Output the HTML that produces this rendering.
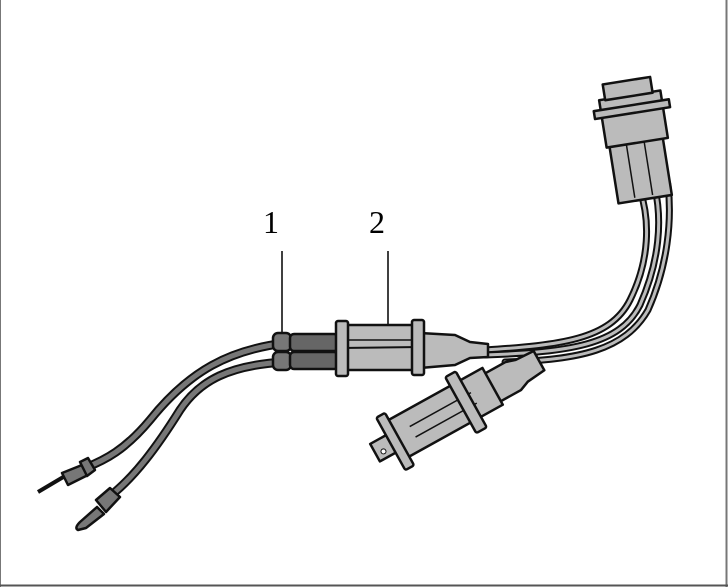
<!DOCTYPE html>
<html><head><style>
html,body{margin:0;padding:0;background:#fff;}
svg{display:block;}
</style></head><body>
<svg width="728" height="587" viewBox="0 0 728 587" xmlns="http://www.w3.org/2000/svg">
<rect x="0" y="0" width="728" height="587" fill="#fff"/>
<line x1="0.5" y1="0" x2="0.5" y2="587" stroke="#777" stroke-width="1"/>
<line x1="726.5" y1="0" x2="726.5" y2="587" stroke="#777" stroke-width="2"/>
<line x1="0" y1="585.5" x2="728" y2="585.5" stroke="#555" stroke-width="2"/>

<text x="271" y="233" font-family="Liberation Serif, serif" font-size="32" text-anchor="middle">1</text>
<text x="377" y="233" font-family="Liberation Serif, serif" font-size="32" text-anchor="middle">2</text>
<line x1="282" y1="251" x2="282" y2="336" stroke="#000" stroke-width="1.5"/>
<line x1="388" y1="251" x2="388" y2="325" stroke="#000" stroke-width="1.5"/>

<g fill="none" stroke-linecap="round">
<path d="M285,343 C230,350 190,370 150,420 C125,450 105,460 85,468" stroke="#111" stroke-width="9"/>
<path d="M285,343 C230,350 190,370 150,420 C125,450 105,460 85,468" stroke="#777" stroke-width="5"/>
<path d="M285,362 C230,365 200,380 180,410 C155,450 135,475 115,492" stroke="#111" stroke-width="9"/>
<path d="M285,362 C230,365 200,380 180,410 C155,450 135,475 115,492" stroke="#777" stroke-width="5"/>
<path d="M485,350 C560,345 610,340 630,300 C650,260 650,220 640,190" stroke="#111" stroke-width="7"/>
<path d="M485,350 C560,345 610,340 630,300 C650,260 650,220 640,190" stroke="#bbb" stroke-width="3"/>
<path d="M485,355 C570,352 620,345 640,305 C660,260 662,220 655,188" stroke="#111" stroke-width="7"/>
<path d="M485,355 C570,352 620,345 640,305 C660,260 662,220 655,188" stroke="#bbb" stroke-width="3"/>
<path d="M505,362 C580,360 625,350 648,310 C668,265 672,220 668,185" stroke="#111" stroke-width="7"/>
<path d="M505,362 C580,360 625,350 648,310 C668,265 672,220 668,185" stroke="#bbb" stroke-width="3"/>
</g>

<g stroke="#111" stroke-width="2.5" stroke-linejoin="round">
<path d="M38,492 L65,476" stroke-width="4"/>
<path d="M62,473 L82,465 L88,475 L68,485 Z" fill="#777"/>
<path d="M80,462 L88,458 L95,470 L87,476 Z" fill="#777"/>
<path d="M97,507 L80,522 Q74,528 78,530 L86,528 L104,514 Z" fill="#777"/>
<path d="M96,500 L110,488 L120,497 L106,512 Z" fill="#777"/>
</g>

<g stroke="#111" stroke-width="2.5" fill="#777">
<rect x="273" y="333" width="18" height="18" rx="5"/>
<rect x="273" y="352" width="18" height="18" rx="5"/>
<rect x="290" y="334" width="48" height="17" rx="4" fill="#666"/>
<rect x="290" y="352" width="48" height="17" rx="4" fill="#666"/>
</g>

<g stroke="#111" stroke-width="2.5" stroke-linejoin="round" fill="#bbb">
<path d="M420,333 L455,335 L470,342 L488,344 L488,357 L470,358 L455,365 L420,368 Z"/>
<rect x="340" y="325" width="80" height="45"/>
<line x1="340" y1="340" x2="420" y2="340" stroke-width="1.5"/>
<line x1="340" y1="348" x2="420" y2="347" stroke-width="2"/>
<rect x="336" y="321" width="12" height="55" rx="2"/>
<rect x="412" y="320" width="12" height="55" rx="2"/>
</g>

<!-- lower plug -->
<g transform="translate(452,410) rotate(-29)" stroke="#111" stroke-width="2.5" stroke-linejoin="round" fill="#bbb">
<path d="M45,-16 L70,-16 L80,-13 L100,-12 L100,10 L80,12 L70,16 L45,16 Z"/>
<rect x="-88" y="-10" width="30" height="20"/>
<rect x="-65" y="-22" width="112" height="42"/>
<line x1="-45" y1="-6" x2="25" y2="-6" stroke-width="1.5"/>
<line x1="-45" y1="6" x2="25" y2="6" stroke-width="1.5"/>
<rect x="-70" y="-30" width="10" height="60" rx="2"/>
<rect x="10" y="-32" width="12" height="64" rx="2"/>
<circle cx="-80" cy="3" r="2.5" fill="#fff" stroke-width="1"/>
</g>

<!-- top connector -->
<g transform="translate(635,135) rotate(-9)" stroke="#111" stroke-width="2.5" stroke-linejoin="round" fill="#bbb">
<rect x="-27" y="5" width="54" height="60"/>
<line x1="-10" y1="5" x2="-10" y2="62" stroke-width="1.5"/>
<line x1="8" y1="5" x2="8" y2="62" stroke-width="1.5"/>
<rect x="-30" y="-40" width="62" height="48"/>
<rect x="-37" y="-30" width="76" height="8"/>
<rect x="-24" y="-55" width="48" height="16"/>
</g>
</svg>
</body></html>
